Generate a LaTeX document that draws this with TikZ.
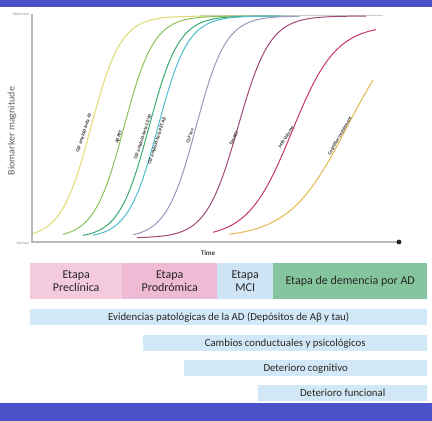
\documentclass[tikz,border=0pt]{standalone}
\usepackage{fontspec}
\setmainfont{Carlito}
\definecolor{bandblue}{RGB}{74,80,200}
\definecolor{pinkA}{RGB}{244,202,222}
\definecolor{pinkB}{RGB}{238,186,212}
\definecolor{mciblue}{RGB}{206,228,245}
\definecolor{demgreen}{RGB}{132,197,158}
\definecolor{barblue}{RGB}{211,232,246}
\definecolor{axisgray}{RGB}{185,185,185}
\definecolor{cYellow}{RGB}{226,218,112}
\definecolor{cGreen}{RGB}{140,196,90}
\definecolor{cTeal}{RGB}{60,170,115}
\definecolor{cCyan}{RGB}{80,190,205}
\definecolor{cTau}{RGB}{155,152,188}
\definecolor{cTauPet}{RGB}{160,72,120}
\definecolor{cMRI}{RGB}{200,56,106}
\definecolor{cCog}{RGB}{225,185,80}
\newcommand{\sigcurve}[6]{% colour, from, to, centre, width, top
  \draw[curve,#1] plot[domain=#2:#3,samples=90,smooth]
    (\x,{(238+#6)/2+(238-#6)/2*tanh(-(\x-#4)/(2*#5))});}
\begin{document}
\begin{tikzpicture}[x=1pt,y=-1pt,
  curve/.style={line width=1pt},
  axisline/.style={line width=2pt,axisgray},
  lab/.style={font=\bfseries\fontsize{4.8}{5}\selectfont,text=black!80,inner sep=0pt},
  tinylab/.style={font=\fontsize{4}{4}\selectfont,text=black!45,inner sep=0pt},
  phase/.style={anchor=north west,inner sep=0pt,align=center,
    font=\fontsize{12}{13}\selectfont,text=black!85,minimum height=36pt},
  bar/.style={anchor=north west,inner sep=0pt,fill=barblue,
    font=\fontsize{10.8}{12}\selectfont,text=black!85,minimum height=16pt}]
\useasboundingbox (0,0) rectangle (432,421);
\fill[white] (0,0) rectangle (432,421);
\fill[bandblue] (0,0) rectangle (432,7);
\fill[bandblue] (0,403) rectangle (432,421);
% axes
\coordinate (ytop) at (32,14);
\coordinate (orig) at (32,242);
\coordinate (xend) at (399,242);
\coordinate (asyA) at (200,15.5);
\coordinate (asyB) at (383,15.5);
\draw[line width=1.4pt,black!20] (asyA) -- (asyB);
\draw[axisline] (ytop) -- (orig) -- (xend);
\fill[black!85] (xend) circle (2.4);
\node[tinylab,anchor=east] (abn) at (29,14) {Abnormal};
\node[tinylab,anchor=east] (nor) at (29,243) {Normal};
\node[font=\fontsize{10}{10}\selectfont,text=black!62,rotate=90,inner sep=0pt] (ylab) at (12,131) {Biomarker magnitude};
\node[font=\bfseries\fontsize{7}{7}\selectfont,text=black!75,inner sep=0pt] (tlab) at (208,253) {Time};
% curves
\sigcurve{cYellow}{33}{232}{91}{15}{16}
\sigcurve{cGreen}{63}{270}{124}{15}{16}
\sigcurve{cTeal}{83}{280}{149}{15}{16}
\sigcurve{cCyan}{93}{285}{158}{15}{16}
\sigcurve{cTau}{133}{300}{196}{15}{16}
\sigcurve{cTauPet}{137}{366}{238}{16}{16}
\sigcurve{cMRI}{213}{376}{292}{22}{25}
\sigcurve{cCog}{229}{373}{347}{29}{16}
% curve labels
\node[lab,rotate=72] (l1) at (84,133) {CSF amyloid-beta 42};
\node[lab,rotate=72] (l2) at (119,137) {Aβ PET};
\node[lab,rotate=72] (l3) at (143,137) {CSF amyloid-beta 42/40};
\node[lab,rotate=72] (l4) at (157,141) {CSF amyloid-beta PET Aβ};
\node[lab,rotate=72] (l5) at (190,136) {CSF tau};
\node[lab,rotate=62] (l6) at (234,138) {Tau PET};
\node[lab,rotate=58] (l7) at (286,137) {MRI Volume};
\node[lab,rotate=60] (l8) at (340,136) {Cognitive impairment};
% phases
\node[phase,fill=pinkA,minimum width=92pt] (pre) at (30,263) {Etapa\\Preclínica};
\node[phase,fill=pinkB,minimum width=95pt] (pro) at (122,263) {Etapa\\Prodrómica};
\node[phase,fill=mciblue,minimum width=56pt] (mci) at (217,263) {Etapa\\MCI};
\node[phase,fill=demgreen,minimum width=154pt] (dem) at (273,263) {Etapa de demencia por AD};
% bars
\node[bar,minimum width=397pt] (b1) at (30,309) {Evidencias patológicas de la AD (Depósitos de Aβ y tau)};
\node[bar,minimum width=284pt] (b2) at (143,335) {Cambios conductuales y psicológicos};
\node[bar,minimum width=243pt] (b3) at (184,360) {Deterioro cognitivo};
\node[bar,minimum width=169pt] (b4) at (258,385) {Deterioro funcional};
\end{tikzpicture}
\end{document}
